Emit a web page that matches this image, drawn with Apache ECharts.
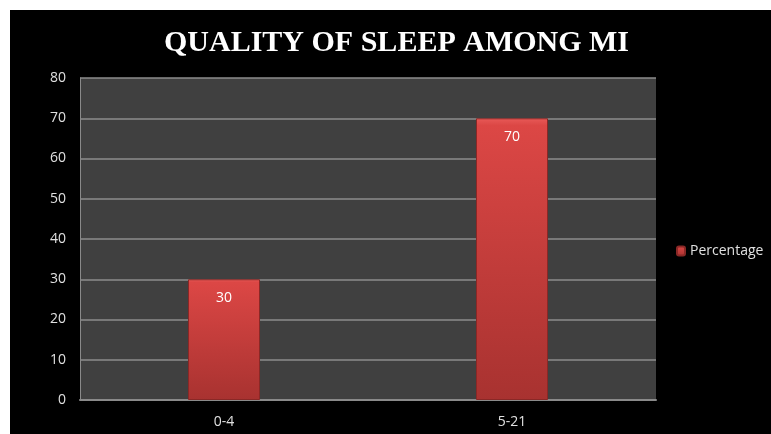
<!DOCTYPE html>
<html>
<head>
<meta charset="utf-8">
<script src="https://cdn.jsdelivr.net/npm/echarts@6/dist/echarts.min.js"></script>
<style>
  html, body { margin: 0; padding: 0; background: #fff; }
  #chart { position: absolute; left: 10px; top: 10px; width: 761px; height: 424px; background: #000; }
</style>
</head>
<body>
<div id="chart"></div>
<script>
// data
const categories = ['0-4', '5-21']
const percentage = [30, 70]
const seriesName = 'Percentage'

let chart = echarts.init(document.getElementById('chart'))

const barColor = new echarts.graphic.LinearGradient(0, 0, 0, 1, [
  { offset: 0, color: '#e85a58' },
  { offset: 0.025, color: '#dc4745' },
  { offset: 1, color: '#a83230' }
])

chart.setOption({
  backgroundColor: '#000',
  animation: false,
  title: {
    text: 'QUALITY OF SLEEP AMONG MI',
    left: 149,
    top: 13,
    textStyle: {
      color: '#fff',
      fontFamily: 'Liberation Serif',
      fontWeight: 'bold',
      fontSize: 30
    }
  },
  legend: {
    data: [seriesName],
    orient: 'vertical',
    left: 661,
    top: 229,
    itemWidth: 8,
    itemHeight: 9,
    itemGap: 6,
    textStyle: { color: '#e0e0e0', fontSize: 14, fontFamily: 'Open Sans' }
  },
  grid: {
    left: 70,
    right: 115,
    top: 68,
    bottom: 34,
    show: true,
    backgroundColor: '#404040',
    borderColor: '#808080',
    borderWidth: 0
  },
  xAxis: {
    type: 'category',
    data: categories,
    axisLine: { lineStyle: { color: '#8a8a8a', width: 2 } },
    axisTick: { show: false },
    axisLabel: { color: '#e0e0e0', fontSize: 14, margin: 15, fontFamily: 'Open Sans' }
  },
  yAxis: {
    type: 'value',
    min: 0,
    max: 80,
    interval: 10,
    axisLine: { show: true, lineStyle: { color: '#8a8a8a', width: 1 } },
    axisTick: { show: false },
    axisLabel: { color: '#e0e0e0', fontSize: 14, margin: 14, fontFamily: 'Open Sans' },
    splitLine: { lineStyle: { color: '#8c8c8c', width: 1.5 } }
  },
  series: [
    {
      name: seriesName,
      type: 'bar',
      data: percentage,
      barWidth: '25%',
      itemStyle: {
        color: barColor,
        borderColor: '#8a2826',
        borderWidth: 1
      },
      label: {
        show: true,
        position: 'insideTop',
        distance: 12,
        color: '#fff',
        fontSize: 14,
        fontFamily: 'Open Sans'
      }
    }
  ]
})
</script>
</body>
</html>
